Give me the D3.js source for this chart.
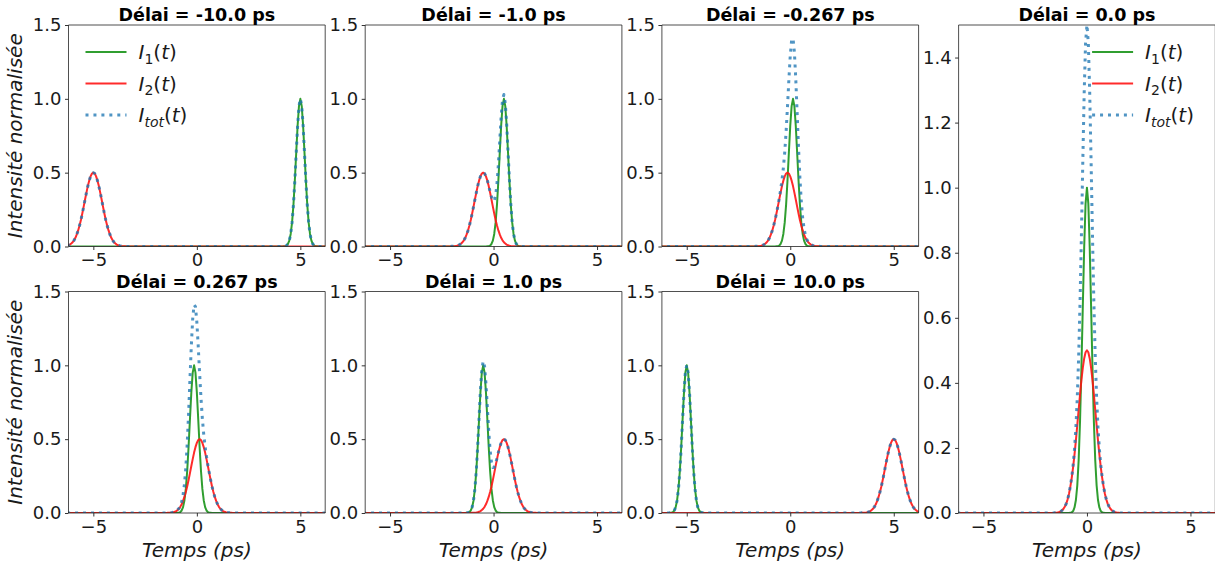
<!DOCTYPE html>
<html>
<head>
<meta charset="utf-8">
<script src="https://cdn.jsdelivr.net/npm/d3@7"></script>
<style>
  html, body { margin: 0; padding: 0; background: #fff; }
  svg { display: block; font-family: "DejaVu Sans", sans-serif; }
</style>
</head>
<body>
<svg id="chart" width="1215" height="562"></svg>
<script>
// ---------------- data ----------------
const delays = [-10.0, -1.0, -0.267, 0.0, 0.267, 1.0, 10.0];
const titles = ["Délai = -10.0 ps", "Délai = -1.0 ps", "Délai = -0.267 ps", "Délai = 0.0 ps",
                "Délai = 0.267 ps", "Délai = 1.0 ps", "Délai = 10.0 ps"];
const xTicks = [-5, 0, 5];
const yTicksSmall = [0.0, 0.5, 1.0, 1.5];
const yTicksTall = [0.0, 0.2, 0.4, 0.6, 0.8, 1.0, 1.2, 1.4];
const xDomain = [-6.2, 6.2];
// samples per ps of the pulse profiles below
const samplesPerPs = 15;
// half-profiles (peak outward), one sample every 1/15 ps
const profileI1 = [1.000, 0.951, 0.817, 0.635, 0.447, 0.284, 0.163, 0.085, 0.040, 0.017, 0.006, 0.002, 0.001];
const profileI2 = [0.500, 0.494, 0.475, 0.446, 0.409, 0.365, 0.318, 0.270, 0.223, 0.180, 0.142, 0.109,
                   0.082, 0.059, 0.042, 0.029, 0.020, 0.013, 0.008, 0.005, 0.003, 0.002, 0.001, 0.001];
const seriesNames = ["I1", "I2", "Itot"];

// ---------------- layout ----------------
const colLeft = [68.5, 365.2, 661.9, 958.6];
const panelW = 256.7;
const rowTop = [25, 291.5];
const rowH = 221.5;
const tallH = 513 - 25;
const layout = [
  {col: 0, row: 0}, {col: 1, row: 0}, {col: 2, row: 0}, {col: 3, row: 0, tall: true},
  {col: 0, row: 1}, {col: 1, row: 1}, {col: 2, row: 1}
];
const colors = {I1: "rgba(30,150,30,0.92)", I2: "rgba(255,20,20,0.9)", Itot: "rgba(31,119,180,0.78)"};
const FS = 18;
const LFS = 20;

const svg = d3.select("#chart");

function val(profile, k) {
  const a = Math.abs(k);
  return a < profile.length ? profile[a] : 0;
}

function panelData(delay) {
  const s = Math.round(delay * samplesPerPs);      // delay in sample steps
  const c1 = -s / (2 * samplesPerPs);               // centre of I1
  const kMin = Math.floor((xDomain[0] - c1) * samplesPerPs) - 1;
  const kMax = Math.ceil((xDomain[1] - c1) * samplesPerPs) + 1;
  const pts = [];
  for (let k = kMin; k <= kMax; k++) {
    const t = c1 + k / samplesPerPs;
    const a = val(profileI1, k);
    const b = val(profileI2, k - s);
    pts.push({t: t, I1: a, I2: b, Itot: a + b});
  }
  return pts;
}

layout.forEach((L, i) => {
  const x0 = colLeft[L.col];
  const y0 = L.tall ? rowTop[0] : rowTop[L.row];
  const h = L.tall ? tallH : rowH;
  const g = svg.append("g").attr("transform", `translate(${x0},${y0})`);

  const x = d3.scaleLinear().domain(xDomain).range([0, panelW]);
  const y = d3.scaleLinear().domain([0, 1.5]).range([h, 0]);

  const clipId = "clip" + i;
  g.append("clipPath").attr("id", clipId).append("rect")
    .attr("x", 0).attr("y", 0).attr("width", panelW).attr("height", h);

  const pts = panelData(delays[i]);
  const plot = g.append("g").attr("clip-path", `url(#${clipId})`);
  seriesNames.forEach(name => {
    const line = d3.line().x(d => x(d.t)).y(d => y(d[name]));
    const p = plot.append("path").datum(pts)
      .attr("d", line)
      .attr("fill", "none")
      .attr("stroke", colors[name])
      .attr("stroke-linejoin", "round");
    if (name === "Itot") {
      p.attr("stroke-width", 3).attr("stroke-dasharray", "3,4.95");
    } else {
      p.attr("stroke-width", 2);
    }
  });

  // axes
  const xAxis = d3.axisBottom(x).tickValues(xTicks).tickSize(3.5).tickPadding(3.5)
    .tickFormat(d => d < 0 ? "\u2212" + Math.abs(d) : String(d));
  const yAxis = d3.axisLeft(y).tickValues(L.tall ? yTicksTall : yTicksSmall).tickSize(3.5).tickPadding(3.5)
    .tickFormat(d3.format(".1f"));
  const gx = g.append("g").attr("transform", `translate(0,${h})`).call(xAxis);
  const gy = g.append("g").call(yAxis);
  [gx, gy].forEach(a => {
    a.select(".domain").remove();
    a.selectAll(".tick line").attr("stroke", "#000").attr("stroke-width", 0.8);
    a.selectAll(".tick text").attr("font-size", FS).attr("fill", "#1a1a1a")
      .attr("font-family", "DejaVu Sans");
  });

  // spines
  const sp = g.append("g").attr("stroke", "#222").attr("stroke-width", 0.8).attr("fill", "none");
  sp.append("line").attr("x1", 0).attr("x2", 0).attr("y1", 0).attr("y2", h);
  sp.append("line").attr("x1", panelW).attr("x2", panelW).attr("y1", 0).attr("y2", h);
  sp.append("line").attr("x1", 0).attr("x2", panelW).attr("y1", 0).attr("y2", 0);
  sp.append("line").attr("x1", 0).attr("x2", panelW).attr("y1", h).attr("y2", h);

  // title
  g.append("text").attr("x", panelW / 2).attr("y", -4)
    .attr("text-anchor", "middle").attr("font-weight", "bold").attr("font-size", 17.5)
    .attr("fill", "#000").text(titles[i]);

  // x label
  if (L.row === 1 || L.tall) {
    g.append("text").attr("x", panelW / 2).attr("y", h + 44)
      .attr("text-anchor", "middle").attr("font-style", "italic").attr("font-size", LFS)
      .attr("fill", "#1a1a1a").text("Temps (ps)");
  }
  // y label
  if (L.col === 0) {
    g.append("text")
      .attr("transform", `translate(${-47},${h / 2}) rotate(-90)`)
      .attr("text-anchor", "middle").attr("font-style", "italic").attr("font-size", LFS)
      .attr("fill", "#1a1a1a").text("Intensité normalisée");
  }

  // legends
  if (i === 0 || L.tall) {
    const lx = i === 0 ? 17 : 133.5;
    const leg = g.append("g");
    const rows = [{n: "I1", sub: "1"}, {n: "I2", sub: "2"}, {n: "Itot", sub: "tot"}];
    rows.forEach((r, j) => {
      const yy = 27 + j * 31.5;
      const ln = leg.append("line").attr("x1", lx).attr("x2", lx + 41)
        .attr("y1", yy).attr("y2", yy).attr("stroke", colors[r.n]);
      if (r.n === "Itot") ln.attr("stroke-width", 3).attr("stroke-dasharray", "3,4.95");
      else ln.attr("stroke-width", 2);
      const t = leg.append("text").attr("x", lx + 53).attr("y", yy + 7)
        .attr("font-size", LFS).attr("fill", "#1a1a1a");
      t.append("tspan").attr("font-style", "italic").text("I");
      const sb = t.append("tspan").attr("font-size", 14).attr("dy", 4.5).text(r.sub);
      if (r.sub === "tot") sb.attr("font-style", "italic");
      t.append("tspan").attr("dy", -4.5).text("(");
      t.append("tspan").attr("font-style", "italic").text("t");
      t.append("tspan").text(")");
    });
  }
});
</script>
</body>
</html>
